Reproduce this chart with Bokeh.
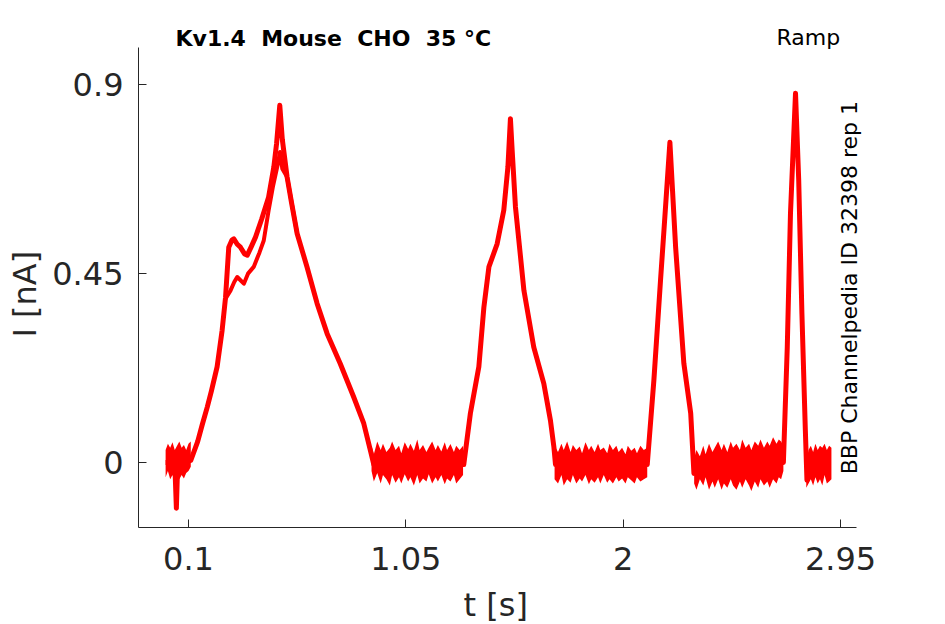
import math
from bokeh.plotting import figure
from bokeh.models import Range1d, FixedTicker, Label, Title
from bokeh.embed import file_html
from bokeh.resources import INLINE

# ---------------- data ----------------
# main recorded trace (rep with the early hump), time in s, current in nA
t_main = [0.00, 0.02, 0.04, 0.047, 0.053, 0.08, 0.11, 0.14, 0.16, 0.182, 0.20, 0.225,
          0.247, 0.262, 0.276, 0.29, 0.298, 0.313, 0.327, 0.345, 0.357, 0.375, 0.393,
          0.42, 0.45, 0.473, 0.485, 0.499, 0.51, 0.531, 0.55, 0.575, 0.618, 0.662,
          0.706, 0.763, 0.822, 0.866, 0.895, 0.91, 1.303, 1.332, 1.369, 1.391, 1.413,
          1.449, 1.478, 1.496, 1.507, 1.515, 1.529, 1.566, 1.609, 1.653, 1.682, 1.697,
          1.704, 2.105, 2.134, 2.163, 2.178, 2.204, 2.229, 2.265, 2.295, 2.309, 2.32,
          2.70, 2.717, 2.731, 2.753, 2.767, 2.781, 2.796, 2.803, 2.81, 2.906]
i_main = [0.00, 0.00, 0.00, -0.109, 0.00, 0.00, 0.005, 0.05, 0.09, 0.132, 0.17, 0.228,
          0.315, 0.394, 0.513, 0.53, 0.533, 0.52, 0.513, 0.497, 0.494, 0.515, 0.537,
          0.58, 0.632, 0.704, 0.76, 0.851, 0.77, 0.68, 0.62, 0.545, 0.466, 0.379,
          0.307, 0.236, 0.156, 0.093, 0.029, -0.005, -0.005, 0.117, 0.228, 0.37, 0.466,
          0.521, 0.601, 0.704, 0.819, 0.74, 0.609, 0.41, 0.275, 0.188, 0.10, 0.037,
          -0.005, -0.005, 0.196, 0.434, 0.553, 0.763, 0.513, 0.236, 0.117, -0.026, -0.005,
          0.00, 0.275, 0.593, 0.88, 0.672, 0.355, 0.077, -0.042, -0.005, -0.005]

# other repetitions (lower branch around the first peak)
t_alt = [0.262, 0.284, 0.30, 0.313, 0.342, 0.36, 0.385, 0.41, 0.429, 0.45, 0.47, 0.49,
         0.50, 0.51, 0.531, 0.575]
i_alt = [0.39, 0.41, 0.43, 0.442, 0.426, 0.45, 0.466, 0.50, 0.529, 0.60, 0.66, 0.71,
         0.74, 0.70, 0.68, 0.545]

# baseline noise envelopes (upper / lower edge of the noisy band)
t_n0 = [0.00, 0.01, 0.02, 0.03, 0.04, 0.05, 0.06, 0.07, 0.08, 0.09, 0.10, 0.11]
hi_n0 = [0.03, 0.045, 0.035, 0.048, 0.03, 0.04, 0.05, 0.035, 0.042, 0.03, 0.045, 0.05]
lo_n0 = [-0.035, -0.02, -0.04, -0.03, -0.045, -0.025, -0.04, -0.03, -0.038, -0.025, -0.02, -0.01]

t_n1 = [0.90, 0.91, 0.925, 0.94, 0.95, 0.965, 0.98, 0.99, 1.005, 1.02, 1.03, 1.045,
        1.06, 1.07, 1.085, 1.10, 1.11, 1.125, 1.14, 1.15, 1.165, 1.18, 1.19, 1.205,
        1.22, 1.23, 1.245, 1.26, 1.27, 1.285, 1.30]
hi_n1 = [0.04, 0.02, 0.05, 0.03, 0.045, 0.025, 0.035, 0.05, 0.03, 0.04, 0.022, 0.048,
         0.032, 0.045, 0.028, 0.055, 0.03, 0.042, 0.025, 0.036, 0.05, 0.03, 0.042, 0.026,
         0.048, 0.03, 0.044, 0.025, 0.04, 0.03, 0.04]
lo_n1 = [-0.02, -0.045, -0.025, -0.05, -0.03, -0.04, -0.055, -0.03, -0.048, -0.035,
         -0.05, -0.028, -0.045, -0.035, -0.055, -0.03, -0.05, -0.038, -0.045, -0.028,
         -0.05, -0.035, -0.045, -0.03, -0.052, -0.038, -0.045, -0.03, -0.05, -0.04, -0.03]

t_n2 = [1.70, 1.715, 1.73, 1.74, 1.755, 1.77, 1.78, 1.795, 1.81, 1.82, 1.835, 1.85,
        1.86, 1.875, 1.89, 1.90, 1.915, 1.93, 1.94, 1.955, 1.97, 1.98, 1.995, 2.01,
        2.02, 2.035, 2.05, 2.06, 2.075, 2.09, 2.105]
hi_n2 = [0.04, 0.025, 0.045, 0.03, 0.05, 0.025, 0.042, 0.03, 0.038, 0.022, 0.048, 0.03,
         0.04, 0.025, 0.045, 0.03, 0.036, 0.022, 0.045, 0.03, 0.04, 0.025, 0.035, 0.02,
         0.04, 0.028, 0.035, 0.022, 0.04, 0.03, 0.035]
lo_n2 = [-0.04, -0.05, -0.03, -0.055, -0.04, -0.048, -0.03, -0.05, -0.038, -0.045,
         -0.03, -0.052, -0.04, -0.048, -0.035, -0.05, -0.03, -0.048, -0.04, -0.05, -0.035,
         -0.045, -0.038, -0.05, -0.035, -0.042, -0.05, -0.035, -0.045, -0.04, -0.035]

t_n3 = [2.31, 2.32, 2.335, 2.35, 2.36, 2.375, 2.39, 2.40, 2.415, 2.43, 2.44, 2.455,
        2.47, 2.48, 2.495, 2.51, 2.52, 2.535, 2.55, 2.56, 2.575, 2.59, 2.60, 2.615,
        2.63, 2.64, 2.655, 2.67, 2.68, 2.69, 2.70]
hi_n3 = [0.01, 0.03, 0.015, 0.04, 0.02, 0.045, 0.025, 0.035, 0.05, 0.03, 0.045, 0.025,
         0.05, 0.035, 0.045, 0.03, 0.055, 0.035, 0.045, 0.03, 0.05, 0.04, 0.055, 0.035,
         0.05, 0.04, 0.06, 0.045, 0.055, 0.05, 0.04]
lo_n3 = [-0.05, -0.065, -0.04, -0.055, -0.035, -0.065, -0.045, -0.06, -0.04, -0.065,
         -0.05, -0.06, -0.04, -0.055, -0.065, -0.045, -0.06, -0.04, -0.055, -0.068,
         -0.045, -0.06, -0.04, -0.055, -0.045, -0.06, -0.04, -0.05, -0.035, -0.04, -0.02]

t_n4 = [2.80, 2.81, 2.82, 2.83, 2.84, 2.85, 2.86, 2.87, 2.88, 2.89, 2.90, 2.91]
hi_n4 = [0.0, 0.03, 0.04, 0.025, 0.045, 0.03, 0.04, 0.035, 0.045, 0.03, 0.04, 0.035]
lo_n4 = [-0.06, -0.05, -0.04, -0.055, -0.035, -0.05, -0.04, -0.055, -0.03, -0.05, -0.045, -0.04]

x_ticks = [0.1, 1.05, 2, 2.95]
x_tick_labels = ["0.1", "1.05", "2", "2.95"]
y_ticks = [0, 0.45, 0.9]
y_tick_labels = ["0", "0.45", "0.9"]

NB = "\u00a0"
title_text = "Kv1.4" + NB + " Mouse" + NB + " CHO" + NB + " 35 °C"
protocol_text = "Ramp"
side_text = "BBP Channelpedia ID 32398 rep 1"
x_label = "t [s]"
y_label = "I [nA]"

# ---------------- figure ----------------
FONT = "DejaVu Sans"
DARK = "#262626"
RED = "#ff0000"

X_AXIS_LO, X_AXIS_HI = -0.1185, 3.0196
Y_AXIS_LO, Y_AXIS_HI = -0.1548, 0.9888

p = figure(frame_width=737, frame_height=527,
           min_border_left=138, min_border_right=70,
           min_border_top=0, min_border_bottom=97,
           x_range=Range1d(X_AXIS_LO, 3.1026), y_range=Range1d(Y_AXIS_LO, 1.1007),
           output_backend="svg", toolbar_location=None,
           background_fill_color="white", border_fill_color="white")
p.outline_line_color = None
p.grid.visible = False

for tt, hh, ll in [(t_n0, hi_n0, lo_n0), (t_n1, hi_n1, lo_n1), (t_n2, hi_n2, lo_n2),
                   (t_n3, hi_n3, lo_n3), (t_n4, hi_n4, lo_n4)]:
    p.varea(x=tt, y1=ll, y2=hh, fill_color=RED, fill_alpha=1.0)

p.line(t_alt, i_alt, line_color=RED, line_width=4, line_join="round")
p.line(t_main, i_main, line_color=RED, line_width=5, line_join="round")

# axes
p.xaxis.ticker = FixedTicker(ticks=x_ticks)
p.yaxis.ticker = FixedTicker(ticks=y_ticks)
p.xaxis.major_label_overrides = dict(zip(x_ticks, x_tick_labels))
p.yaxis.major_label_overrides = dict(zip(y_ticks, y_tick_labels))
p.xaxis.bounds = (X_AXIS_LO, X_AXIS_HI)
p.yaxis.bounds = (Y_AXIS_LO, Y_AXIS_HI)
for ax in (p.xaxis[0], p.yaxis[0]):
    ax.axis_line_color = DARK
    ax.axis_line_width = 1
    ax.major_tick_line_color = DARK
    ax.major_tick_in = 8
    ax.major_tick_out = 0
    ax.minor_tick_line_color = None
    ax.major_label_text_font = FONT
    ax.major_label_text_font_size = "32px"
    ax.major_label_text_color = DARK
p.xaxis.major_label_standoff = 19
p.yaxis.major_label_standoff = 15

# axis titles placed in the side panels
p.add_layout(Title(text=y_label, align="left", offset=190, standoff=8,
                   vertical_align="top",
                   text_font=FONT, text_font_size="32px", text_font_style="normal",
                   text_color=DARK), "left")
p.add_layout(Title(text=x_label, align="left", offset=325, standoff=22,
                   text_font=FONT, text_font_size="32px", text_font_style="normal",
                   text_color=DARK), "below")

# texts inside the (extended) frame, positions in data coordinates
p.add_layout(Label(x=0.0432, y=1.0095, text=title_text,
                   text_align="left", text_baseline="alphabetic",
                   text_font=FONT, text_font_size="22px", text_font_style="bold",
                   text_color="black"))
p.add_layout(Label(x=2.670, y=1.0126, text=protocol_text,
                   text_align="left", text_baseline="alphabetic",
                   text_font=FONT, text_font_size="22px", text_color="black"))
p.add_layout(Label(x=2.989, y=-0.0279, text=side_text, angle=math.pi / 2,
                   text_align="left", text_baseline="alphabetic",
                   text_font=FONT, text_font_size="22px", text_color="black"))

open("out.html", "w").write(file_html(p, INLINE))
